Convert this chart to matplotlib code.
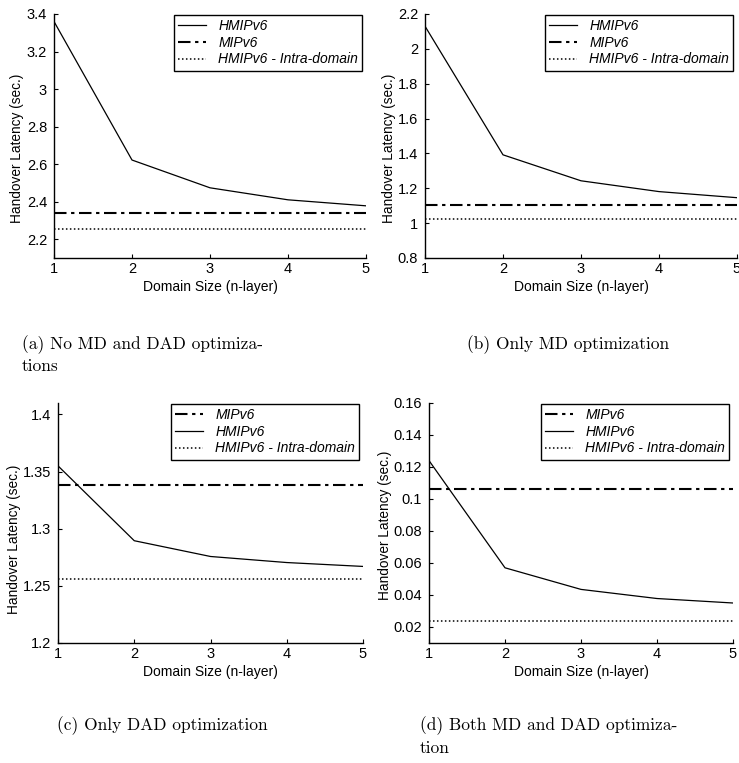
import matplotlib
matplotlib.use("Agg")
import matplotlib.pyplot as plt

# ---------------- data ----------------
domain_size = [1, 2, 3, 4, 5]
xtick_labels = ["1", "2", "3", "4", "5"]

hmip_a = [3.36, 2.622, 2.474, 2.41, 2.378]
mip_a = 2.34
intra_a = 2.254

hmip_b = [2.13, 1.392, 1.243, 1.181, 1.146]
mip_b = 1.104
intra_b = 1.022

hmip_c = [1.355, 1.2895, 1.2757, 1.2704, 1.267]
mip_c = 1.338
intra_c = 1.2559

hmip_d = [0.124, 0.057, 0.0435, 0.0378, 0.035]
mip_d = 0.106
intra_d = 0.0235

ylims = [(2.1, 3.4), (0.8, 2.2), (1.2, 1.41), (0.01, 0.16)]
yticks = [[2.2, 2.4, 2.6, 2.8, 3.0, 3.2, 3.4],
          [0.8, 1.0, 1.2, 1.4, 1.6, 1.8, 2.0, 2.2],
          [1.2, 1.25, 1.3, 1.35, 1.4],
          [0.02, 0.04, 0.06, 0.08, 0.10, 0.12, 0.14, 0.16]]
ytick_labels = [["2.2", "2.4", "2.6", "2.8", "3", "3.2", "3.4"],
                ["0.8", "1", "1.2", "1.4", "1.6", "1.8", "2", "2.2"],
                ["1.2", "1.25", "1.3", "1.35", "1.4"],
                ["0.02", "0.04", "0.06", "0.08", "0.1", "0.12", "0.14", "0.16"]]

label_hmip = "HMIPv6"
label_mip = "MIPv6"
label_intra = "HMIPv6 - Intra-domain"
xlabel = "Domain Size (n-layer)"
ylabel = "Handover Latency (sec.)"

captions = [("(a) No MD and DAD optimiza-", "tions"),
            ("(b) Only MD optimization", ""),
            ("(c) Only DAD optimization", ""),
            ("(d) Both MD and DAD optimiza-", "tion")]

# ---------------- figure ----------------
W, H = 739, 763
fig = plt.figure(figsize=(W / 100, H / 100), dpi=100)
plt.rcParams['font.family'] = ['Liberation Sans', 'DejaVu Sans']


def rect(l, r, t, b):
    return [l / W, 1 - b / H, (r - l) / W, (b - t) / H]


rects = [rect(54, 366, 14, 258), rect(425, 737, 14, 258),
         rect(58, 363, 403, 643), rect(429, 733, 403, 643)]
ylabel_y = [0.45, 0.45, 0.43, 0.49]
ylabel_x = [-0.096, -0.093, -0.121, -0.122]

hmips = [hmip_a, hmip_b, hmip_c, hmip_d]
mips = [mip_a, mip_b, mip_c, mip_d]
intras = [intra_a, intra_b, intra_c, intra_d]

dashdot = (0, (6, 2.2, 1.6, 2.2))
dotted = (0, (1.0, 1.6))

for i in range(4):
    ax = fig.add_axes(rects[i])
    h, = ax.plot(domain_size, hmips[i], color='black', lw=0.9, ls='-')
    m, = ax.plot([domain_size[0], domain_size[-1]], [mips[i], mips[i]],
                 color='black', lw=1.5, ls=dashdot)
    t, = ax.plot([domain_size[0], domain_size[-1]], [intras[i], intras[i]],
                 color='black', lw=1.1, ls=dotted)
    ax.set_xlim(1, 5)
    ax.set_ylim(*ylims[i])
    ax.set_xticks(domain_size)
    ax.set_xticklabels(xtick_labels)
    ax.set_yticks(yticks[i])
    ax.set_yticklabels(ytick_labels[i])
    for s in ['top', 'right']:
        ax.spines[s].set_visible(False)
    for s in ['left', 'bottom']:
        ax.spines[s].set_linewidth(1.0)
        ax.spines[s].set_color('black')
    ax.tick_params(direction='in', length=3, width=0.8, labelsize=10.5,
                   colors='black')
    ax.tick_params(axis='y', pad=5)
    ax.tick_params(axis='x', pad=3)
    ax.set_xlabel(xlabel, fontsize=10, labelpad=3)
    ax.set_ylabel(ylabel, fontsize=9.8)
    ax.yaxis.set_label_coords(ylabel_x[i], ylabel_y[i])
    if i < 2:
        handles = [h, m, t]
        labels = [label_hmip, label_mip, label_intra]
    else:
        handles = [m, h, t]
        labels = [label_mip, label_hmip, label_intra]
    leg = ax.legend(handles, labels, loc='upper right',
                    bbox_to_anchor=(0.988, 0.997), borderaxespad=0,
                    frameon=True, fancybox=False, edgecolor='black',
                    framealpha=1, prop={'style': 'italic', 'size': 10},
                    handlelength=2.0, handletextpad=0.9,
                    labelspacing=0.2, borderpad=0.3)
    leg.get_frame().set_linewidth(1.0)

# captions
cap_pos = [(22, 345, 366), (467, 345, None), (57, 726, None), (420, 726, 748)]
for (c1, c2), (x, y1, y2) in zip(captions, cap_pos):
    fig.text(x / W, 1 - y1 / H, c1, family='cmr10', fontsize=12.5,
             va='center', ha='left')
    if c2:
        fig.text(x / W, 1 - y2 / H, c2, family='cmr10', fontsize=12.5,
                 va='center', ha='left')

fig.savefig('out.png', dpi=100)
